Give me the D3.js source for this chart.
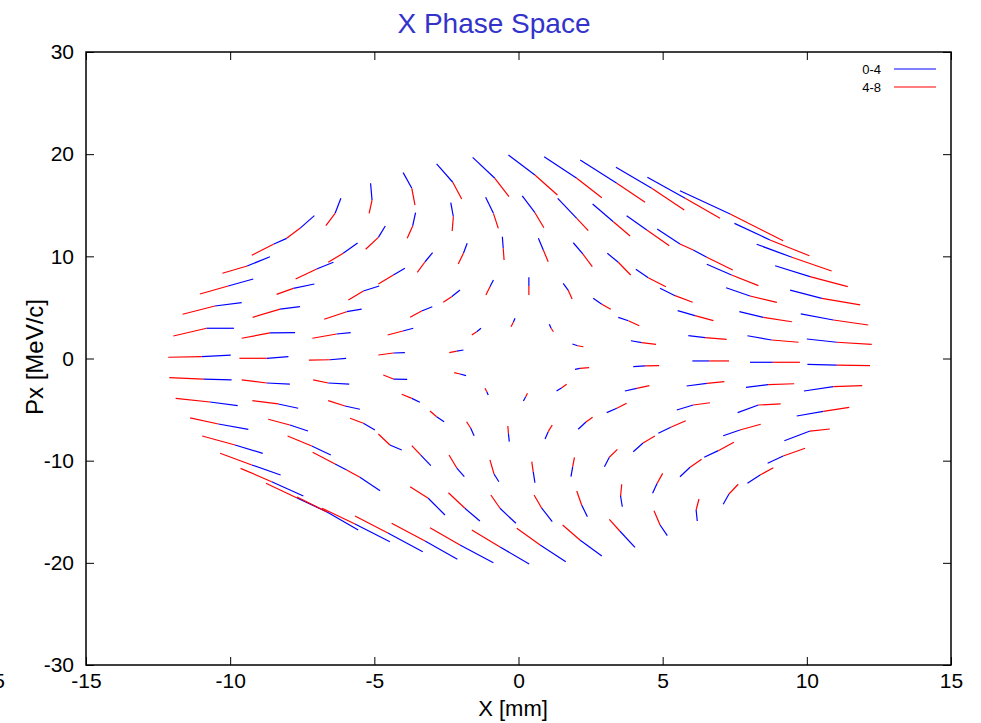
<!DOCTYPE html>
<html>
<head>
<meta charset="utf-8">
<script src="https://cdn.jsdelivr.net/npm/d3@7"></script>
<style>
  html, body { margin: 0; padding: 0; background: #fff; }
  svg { display: block; }
  text { font-family: "Liberation Sans", Arial, sans-serif; }
</style>
</head>
<body>
<script>
// Phase-space tracks: each entry is [x0, px0, x1, px1, x2, px2]
// (x in mm, px in MeV/c). Points 0→1 belong to the 0-4 interval, 1→2 to 4-8.
const tracksUpperLeft = [
  [-5.13,17.15,-5.08,15.51,-5.18,14.21],
  [-6.16,15.68,-6.36,14.21,-6.68,13.00],
  [-7.08,13.98,-7.58,12.74,-8.04,11.76],
  [-8.04,11.76,-8.50,11.18,-9.25,10.10],
  [-4.62,12.97,-4.86,11.86,-5.30,10.69],
  [-5.58,11.30,-6.08,10.30,-6.60,9.42],
  [-8.62,9.96,-9.41,9.05,-10.27,8.34],
  [-6.42,9.42,-7.00,8.76,-7.73,7.78],
  [-9.20,7.78,-10.07,7.10,-11.05,6.31],
  [-7.08,7.29,-7.81,6.87,-8.39,6.28],
  [-3.94,8.83,-4.34,8.17,-4.86,7.29],
  [-4.83,7.10,-5.38,6.61,-5.90,5.73]
];
const tracksLeft = [
  [-9.60,5.46,-10.53,5.14,-11.65,4.33],
  [-7.58,5.07,-8.27,4.84,-9.22,4.03],
  [-5.44,4.84,-5.96,4.58,-6.74,3.84],
  [-9.87,2.96,-10.82,2.96,-11.97,2.20],
  [-7.75,2.53,-8.62,2.50,-9.60,1.98],
  [-5.82,2.53,-6.31,2.40,-7.15,1.98],
  [-3.65,2.96,-4.01,2.69,-4.54,2.30],
  [-9.98,0.34,-10.99,0.18,-12.15,0.12],
  [-7.98,0.18,-8.73,0.02,-9.68,0.02],
  [-5.98,0.02,-6.54,-0.12,-7.27,-0.15],
  [-3.94,0.57,-4.34,0.54,-4.86,0.34],
  [-9.95,-2.10,-10.93,-2.01,-12.11,-1.88],
  [-7.93,-2.50,-8.73,-2.40,-9.60,-2.10],
  [-5.87,-2.50,-6.60,-2.40,-7.12,-2.10],
  [-3.86,-2.04,-4.34,-2.01,-4.69,-1.61],
  [-9.74,-4.62,-10.70,-4.26,-11.89,-3.90],
  [-7.64,-4.87,-8.33,-4.45,-9.23,-4.13],
  [-5.50,-4.97,-6.02,-4.65,-6.60,-4.13],
  [-3.42,-4.29,-3.70,-3.90,-4.05,-3.50],
  [-9.37,-6.93,-10.41,-6.41,-11.39,-5.82],
  [-7.30,-7.10,-7.93,-6.51,-8.68,-5.95],
  [-4.98,-7.00,-5.38,-6.34,-5.84,-5.85]
];
const tracksLowerLeft = [
  [-4.05,-8.96,-4.46,-8.47,-4.86,-7.39],
  [-8.87,-9.28,-9.83,-8.47,-10.97,-7.59],
  [-6.51,-9.45,-7.17,-8.56,-8.01,-7.59],
  [-8.25,-11.40,-9.25,-10.42,-10.35,-9.28],
  [-5.96,-10.91,-6.36,-10.33,-7.14,-9.18],
  [-4.80,-12.94,-5.50,-11.63,-5.96,-10.91],
  [-7.46,-13.46,-8.56,-12.06,-9.64,-10.75],
  [-6.64,-15.02,-7.68,-13.65,-8.76,-12.21],
  [-5.56,-16.79,-6.64,-15.02,-7.68,-13.56],
  [-4.46,-17.93,-5.67,-16.20,-6.81,-14.66],
  [-3.32,-18.91,-4.53,-17.08,-5.67,-15.42],
  [-2.12,-19.65,-3.24,-17.86,-4.40,-16.13],
  [-0.87,-19.99,-2.03,-18.25,-3.07,-16.56],
  [0.37,-20.11,-0.64,-18.45,-1.62,-16.79],
  [1.64,-19.89,0.75,-18.25,-0.06,-16.62],
  [2.89,-19.33,2.13,-17.76,1.53,-16.30],
  [4.04,-18.48,3.52,-16.91,3.15,-15.74]
];
const tracksLowerMid = [
  [-1.54,-7.56,-1.66,-6.80,-1.80,-6.19],
  [-0.32,-8.14,-0.35,-7.32,-0.37,-6.61],
  [0.92,-7.88,1.03,-7.16,1.17,-6.51],
  [2.07,-6.93,2.34,-6.22,2.57,-5.76],
  [3.98,-9.12,4.32,-8.27,4.73,-7.59],
  [-3.04,-10.49,-3.39,-9.45,-3.70,-8.53],
  [-1.88,-11.57,-2.14,-10.72,-2.41,-9.45],
  [-0.68,-12.06,-0.85,-11.30,-0.99,-9.93],
  [0.57,-12.16,0.51,-11.08,0.46,-10.10],
  [1.82,-11.57,1.88,-10.59,1.94,-9.67],
  [2.98,-10.59,3.15,-9.67,3.43,-8.89],
  [-2.55,-15.32,-3.13,-13.68,-3.76,-12.55],
  [-1.34,-15.90,-1.86,-14.66,-2.43,-13.14],
  [-0.09,-16.13,-0.64,-14.66,-0.96,-13.36],
  [1.17,-15.97,0.80,-14.63,0.54,-13.36],
  [2.39,-15.48,2.19,-14.34,2.02,-12.97],
  [3.60,-14.51,3.54,-13.46,3.58,-12.31]
];
const tracksCenter = [
  [-2.03,6.70,-2.32,6.05,-2.61,5.50],
  [-0.87,7.68,-0.99,7.03,-1.13,6.22],
  [0.36,7.95,0.36,7.10,0.36,6.22],
  [1.55,7.36,1.72,6.70,1.86,5.82],
  [2.59,5.89,2.89,5.31,3.20,4.82],
  [3.46,4.03,3.81,3.70,4.19,3.21],
  [-2.99,5.07,-3.36,4.65,-3.76,4.03],
  [-0.12,3.93,-0.18,3.54,-0.26,3.11],
  [-1.30,2.96,-1.45,2.62,-1.62,2.30],
  [1.07,3.35,1.13,2.96,1.21,2.62],
  [1.87,1.42,2.05,1.25,2.25,1.15],
  [3.90,1.74,4.27,1.55,4.77,1.39],
  [-1.91,0.83,-2.14,0.73,-2.40,0.57],
  [1.96,-1.06,2.13,-0.96,2.45,-0.90],
  [3.98,-0.80,4.39,-0.73,4.88,-0.70],
  [-1.82,-1.68,-2.03,-1.52,-2.23,-1.39],
  [-1.05,-3.57,-1.10,-3.25,-1.16,-2.92],
  [0.17,-4.16,0.25,-3.74,0.31,-3.41],
  [1.32,-3.18,1.50,-2.86,1.67,-2.53],
  [3.69,-3.18,4.10,-2.92,4.54,-2.66],
  [3.06,-5.30,3.41,-4.87,3.75,-4.38],
  [-2.58,-6.19,-2.84,-5.70,-3.07,-5.14]
];
const tracksUpperMid = [
  [-4.00,18.19,-3.70,16.66,-3.59,15.02],
  [-2.84,19.04,-2.28,17.25,-1.97,15.61],
  [-1.59,19.69,-0.82,17.64,-0.33,15.84],
  [-0.35,19.92,0.57,17.96,1.35,16.00],
  [0.89,19.75,2.02,17.64,2.89,15.74],
  [2.14,19.43,3.41,17.15,4.39,15.29],
  [3.38,18.71,4.62,16.66,5.75,14.53],
  [-2.35,15.25,-2.26,13.88,-2.30,12.48],
  [-3.57,14.27,-3.67,12.97,-3.86,11.76],
  [-1.14,15.78,-0.87,14.21,-0.70,12.74],
  [0.13,15.91,0.57,14.27,0.88,12.80],
  [1.36,15.68,2.02,13.72,2.42,12.51],
  [2.57,15.12,3.29,13.39,3.87,11.99],
  [3.75,13.98,4.45,12.58,5.23,11.04],
  [-1.78,11.28,-1.91,10.30,-2.09,9.25],
  [-2.98,10.36,-3.24,9.47,-3.51,8.44],
  [-0.56,11.92,-0.53,10.79,-0.50,9.64],
  [0.69,11.76,0.86,10.62,1.03,9.47],
  [1.90,11.33,2.23,10.23,2.56,8.99],
  [3.08,10.30,3.46,9.42,3.89,8.17],
  [4.07,8.73,4.50,7.91,5.11,7.03]
];
const tracksRight = [
  [4.47,17.74,5.78,15.68,6.99,13.72],
  [5.60,16.42,7.34,14.14,9.18,11.53],
  [7.49,13.23,8.72,11.60,10.09,10.06],
  [8.26,11.18,9.48,9.91,10.86,8.56],
  [8.90,9.08,10.11,8.01,11.42,7.03],
  [4.81,12.68,5.60,11.21,6.06,10.62],
  [6.06,10.62,6.53,9.91,7.43,8.66],
  [6.53,9.22,7.39,8.17,8.32,7.13],
  [4.91,6.87,5.43,6.15,6.04,5.50],
  [7.20,6.93,8.03,6.12,8.96,5.50],
  [9.42,6.70,10.52,5.89,11.85,5.24],
  [5.52,4.68,6.12,4.19,6.76,3.70],
  [7.66,4.58,8.49,4.03,9.48,3.60],
  [9.79,4.36,10.92,3.77,12.13,3.28],
  [5.89,2.23,6.47,2.04,7.22,1.88],
  [7.94,2.23,8.78,1.81,9.71,1.59],
  [10.00,1.91,11.04,1.59,12.25,1.39],
  [6.03,-0.24,6.61,-0.24,7.30,-0.24],
  [8.03,-0.37,8.82,-0.37,9.76,-0.37],
  [10.02,-0.57,11.04,-0.64,12.19,-0.70],
  [5.83,-2.69,6.53,-2.43,7.14,-2.27],
  [7.89,-2.82,8.66,-2.56,9.56,-2.47],
  [9.90,-3.18,10.92,-2.76,11.92,-2.66],
  [5.49,-5.04,6.06,-4.55,6.64,-4.33],
  [7.60,-5.30,8.32,-4.55,9.09,-4.45],
  [9.65,-5.63,10.57,-5.17,11.47,-4.78],
  [4.85,-7.32,5.28,-6.73,5.80,-6.09],
  [7.10,-7.56,7.68,-7.00,8.40,-6.44],
  [9.22,-8.05,10.11,-7.10,10.80,-6.90],
  [6.44,-9.67,6.93,-9.02,7.47,-8.20],
  [8.64,-10.26,9.18,-9.54,9.94,-8.79],
  [5.60,-11.57,5.95,-10.65,6.35,-9.87],
  [7.94,-12.21,8.38,-11.40,8.84,-10.69],
  [4.65,-13.19,4.81,-12.21,5.00,-11.24],
  [7.10,-14.27,7.30,-13.26,7.62,-12.31],
  [6.20,-15.90,6.16,-14.83,6.26,-13.75],
  [5.16,-17.34,4.91,-16.30,4.70,-14.90]
];

const xTicks = [-15, -10, -5, 0, 5, 10, 15];
const yTicks = [-30, -20, -10, 0, 10, 20, 30];
const seriesNames = ["0-4", "4-8"];
const seriesColors = ["#0000ff", "#ff0000"];

const W = 981, H = 723;
const plot = { left: 86, right: 951, top: 52, bottom: 665 };

const svg = d3.select("body").append("svg").attr("width", W).attr("height", H);

const x = d3.scaleLinear().domain([-15, 15]).range([plot.left, plot.right]);
const y = d3.scaleLinear().domain([-30, 30]).range([plot.bottom, plot.top]);

// Plain hyphen-minus for negative tick values
const fmt = d => String(d);

// Title
svg.append("text")
  .attr("x", 494).attr("y", 33)
  .attr("text-anchor", "middle")
  .attr("font-size", 28)
  .attr("fill", "#3333cc")
  .text("X Phase Space");

// Tracks
const allTracks = [].concat(tracksUpperLeft, tracksLeft, tracksLowerLeft,
  tracksLowerMid, tracksCenter, tracksUpperMid, tracksRight);
const line = d3.line().x(d => x(d[0])).y(d => y(d[1]));
const gTracks = svg.append("g");
allTracks.forEach(t => {
  const p0 = [t[0], t[1]], p1 = [t[2], t[3]], p2 = [t[4], t[5]];
  gTracks.append("path").attr("d", line([p0, p1]))
    .attr("fill", "none").attr("stroke", seriesColors[0]).attr("stroke-width", 1.2);
  gTracks.append("path").attr("d", line([p1, p2]))
    .attr("fill", "none").attr("stroke", seriesColors[1]).attr("stroke-width", 1.2);
});

// Axes with inward ticks
const tickLen = 8;
const axisFont = 21;
function styleAxis(g) {
  g.select(".domain").remove();
  g.selectAll("line").attr("stroke", "#000").attr("stroke-width", 1);
  g.selectAll("text").attr("font-size", axisFont).attr("fill", "#000")
    .attr("font-family", "'Liberation Sans', Arial, sans-serif");
}
svg.append("g").attr("transform", `translate(0,${plot.bottom})`)
  .call(d3.axisBottom(x).tickValues(xTicks).tickFormat(fmt)
    .tickSizeInner(-tickLen).tickSizeOuter(0).tickPadding(8))
  .call(styleAxis);
svg.append("g").attr("transform", `translate(0,${plot.top})`)
  .call(d3.axisTop(x).tickValues(xTicks).tickFormat("")
    .tickSizeInner(-tickLen).tickSizeOuter(0))
  .call(styleAxis);
svg.append("g").attr("transform", `translate(${plot.left},0)`)
  .call(d3.axisLeft(y).tickValues(yTicks).tickFormat(fmt)
    .tickSizeInner(-tickLen).tickSizeOuter(0).tickPadding(12))
  .call(styleAxis);
svg.append("g").attr("transform", `translate(${plot.right},0)`)
  .call(d3.axisRight(y).tickValues(yTicks).tickFormat("")
    .tickSizeInner(-tickLen).tickSizeOuter(0))
  .call(styleAxis);

// Frame
svg.append("rect")
  .attr("x", plot.left).attr("y", plot.top)
  .attr("width", plot.right - plot.left).attr("height", plot.bottom - plot.top)
  .attr("fill", "none").attr("stroke", "#000").attr("stroke-width", 1.5);

// Partly visible label at the far left edge
svg.append("text")
  .attr("x", 5).attr("y", 688)
  .attr("text-anchor", "end")
  .attr("font-size", axisFont)
  .text("-15");

// Axis titles
svg.append("text")
  .attr("x", 513).attr("y", 716)
  .attr("text-anchor", "middle")
  .attr("font-size", 22)
  .text("X [mm]");
svg.append("text")
  .attr("transform", `translate(43,357) rotate(-90)`)
  .attr("text-anchor", "middle")
  .attr("font-size", 24)
  .text("Px [MeV/c]");

// Legend
const legend = svg.append("g");
seriesNames.forEach((name, i) => {
  const ly = 69 + i * 18;
  legend.append("text")
    .attr("x", 881).attr("y", ly + 4.5)
    .attr("text-anchor", "end")
    .attr("font-size", 13)
    .text(name);
  legend.append("line")
    .attr("x1", 894).attr("x2", 936)
    .attr("y1", ly).attr("y2", ly)
    .attr("stroke", seriesColors[i]).attr("stroke-width", 1.2);
});
</script>
</body>
</html>
